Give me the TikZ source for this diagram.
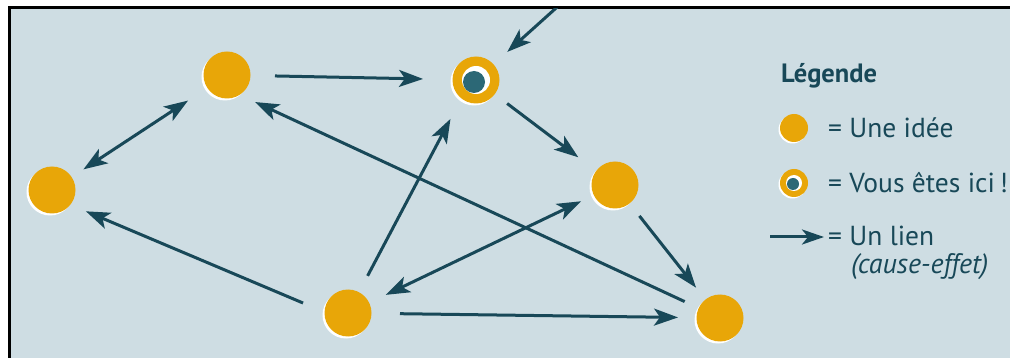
\documentclass[tikz,border=0pt]{standalone}
\usepackage{fontspec}
\setmainfont{PT Sans}
\usetikzlibrary{arrows.meta}
\definecolor{bg}{RGB}{206,221,227}
\definecolor{ora}{RGB}{232,166,8}
\definecolor{ink}{RGB}{24,72,88}
\definecolor{dotc}{RGB}{44,104,118}
\tikzset{
  idea/.style={circle, inner sep=0pt, minimum size=47pt, fill=ora,
    preaction={fill=white, transform canvas={xshift=-2pt, yshift=-2pt}}},
  smallidea/.style={circle, inner sep=0pt, minimum size=28pt, fill=ora,
    preaction={fill=white, transform canvas={xshift=-1.5pt, yshift=-1.5pt}}},
  link/.style={draw=ink, line width=3pt, -{Stealth[length=24pt,width=17pt,inset=6pt]}},
  dlink/.style={draw=ink, line width=3pt, {Stealth[length=24pt,width=17pt,inset=6pt]}-{Stealth[length=24pt,width=17pt,inset=6pt]}},
  lbl/.style={anchor=base west, inner sep=0pt, text=ink, font=\fontsize{27.5}{31}\selectfont},
}
\begin{document}
\begin{tikzpicture}[x=1pt, y=-1pt]
\useasboundingbox (0,0) rectangle (1010,358);
\fill[white] (0,0) rectangle (1010,358);
\fill[bg] (9,8) rectangle (1010,358);
\draw[black, line width=3pt] (1010,7.5) -- (9,7.5) -- (9,358);

% nodes
\node[idea] (A) at (227,75) {};
\node[idea] (B) at (476,80) {};
\fill[white] (B.center) circle (14);
\fill[dotc] ([shift={(-2pt,-2pt)}]B.center) circle (11);
\node[idea] (C) at (52,190) {};
\node[idea] (D) at (615,185) {};
\node[idea] (E) at (348,313) {};
\node[idea] (F) at (720,318) {};
\coordinate (X) at (565,0);

% connectors
\draw[link, shorten <=48pt, shorten >=53pt] (A.center) -- (B.center);
\draw[dlink, shorten <=46.6pt, shorten >=37.6pt] (A.center) -- (C.center);
\begin{scope}
\clip (10,9) rectangle (1010,358);
\draw[link, shorten >=42pt] (X) -- (B.center);
\end{scope}
\draw[link, shorten <=39pt, shorten >=46pt] (B.center) -- (D.center);
\draw[link, shorten <=39.4pt, shorten >=38.6pt] (D.center) -- (F.center);
\draw[link, shorten <=39pt, shorten >=31pt] (F.center) -- ([yshift=-14pt]A.center);
\draw[link, shorten <=42pt, shorten >=44pt] (E.center) -- ([xshift=-5pt]B.center);
\draw[dlink, shorten <=37.6pt, shorten >=42pt] (D.center) -- (E.center);
\draw[link, shorten <=48.8pt, shorten >=36.8pt] ([yshift=-9pt]E.center) -- ([yshift=-7pt]C.center);
\draw[link, shorten <=52pt, shorten >=42pt] (E.center) -- (F.center);

% legend
\node[lbl, font=\fontsize{26.5}{30}\selectfont\bfseries] (LT) at (781,83) {Légende};
\node[smallidea] (L1) at (794,128) {};
\node[lbl] (T1) at (828,138) {= Une idée};
\node[smallidea] (L2) at (794,183) {};
\fill[white] (L2.center) circle (8);
\fill[dotc] ([shift={(-1pt,-1pt)}]L2.center) circle (6);
\node[lbl] (T2) at (828,193) {= Vous êtes ici\,!};
\coordinate (LA1) at (770,237);
\coordinate (LA2) at (824,237);
\draw[draw=ink, line width=3pt, -{Stealth[length=22pt,width=15pt,inset=6pt]}] (LA1) -- (LA2);
\node[lbl] (T3) at (828,246) {= Un lien};
\node[lbl, font=\fontsize{28}{32}\selectfont\itshape] (T4) at (851,273) {(cause-effet)};
\end{tikzpicture}
\end{document}
